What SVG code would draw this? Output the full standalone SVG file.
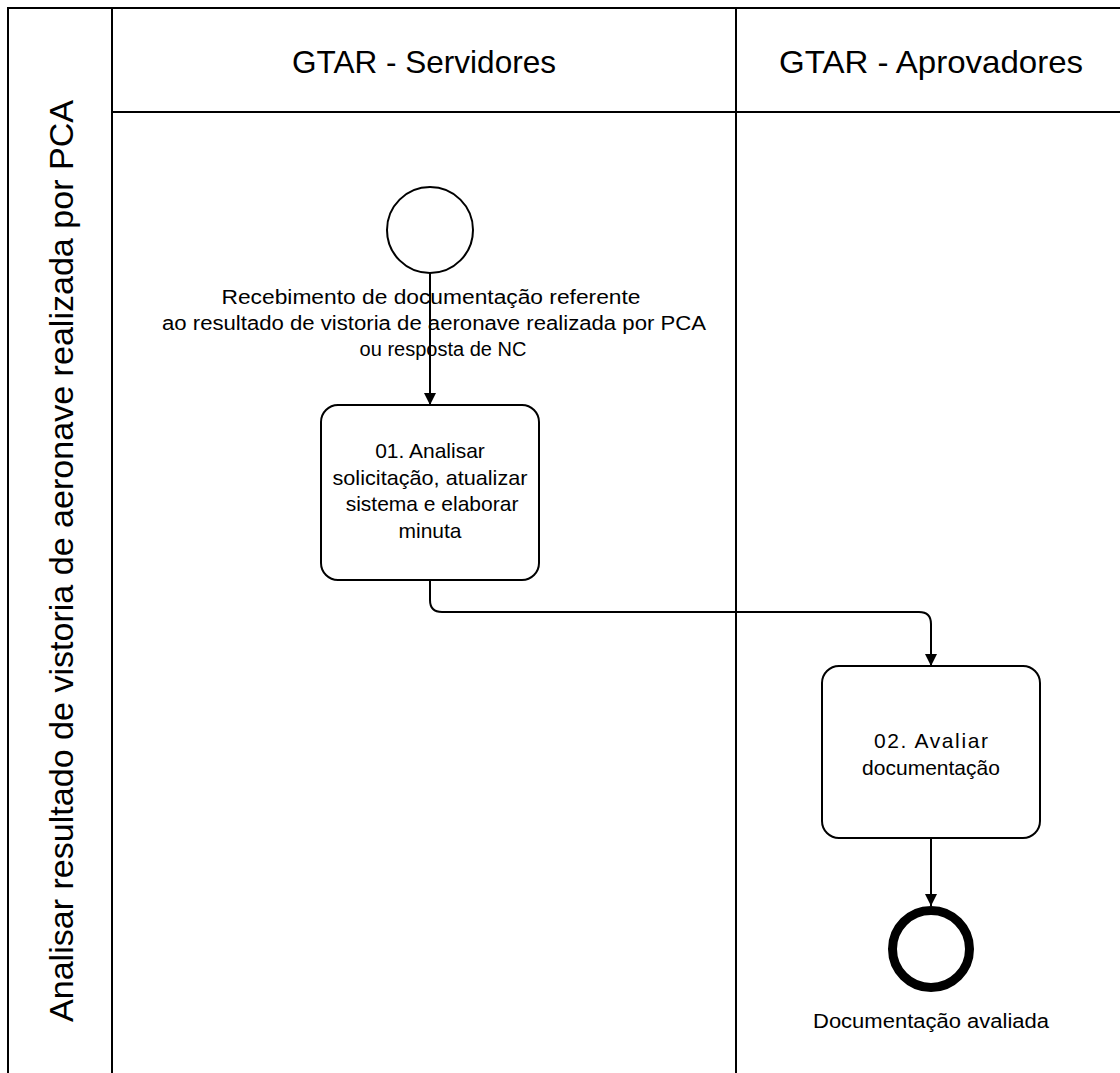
<svg xmlns="http://www.w3.org/2000/svg" width="1120" height="1073" viewBox="0 0 1120 1073">
<style>
.ln{stroke:#000;stroke-width:2;fill:none}
.box{stroke:#000;stroke-width:2;fill:#fff}
.t{font-family:"Liberation Sans",Arial,sans-serif;fill:#000;text-anchor:middle}
.hd{font-size:32px}
.pl{font-size:33px}
.lb{font-size:20px}
.tk{font-size:21px}
</style>
<defs>
<marker id="arr" viewBox="0 0 12 12" refX="12" refY="6" markerWidth="12" markerHeight="12" markerUnits="userSpaceOnUse" orient="auto">
<path d="M0,0 L12,6 L0,12 Z" fill="#000"/>
</marker>
</defs>
<rect width="1120" height="1073" fill="#fff"/>
<g id="pool">
<path class="ln" d="M8,1073 V8 H1120"/>
<line class="ln" x1="112" y1="8" x2="112" y2="1073"/>
<line class="ln" x1="112" y1="112" x2="1120" y2="112"/>
<line class="ln" x1="736" y1="8" x2="736" y2="1073"/>
<text class="t pl" transform="translate(73,561) rotate(-90)" textLength="922" lengthAdjust="spacingAndGlyphs">Analisar resultado de vistoria de aeronave realizada por PCA</text>
<text class="t hd" x="424" y="73" textLength="264" lengthAdjust="spacingAndGlyphs">GTAR - Servidores</text>
<text class="t hd" x="931" y="73" textLength="304" lengthAdjust="spacingAndGlyphs">GTAR - Aprovadores</text>
</g>
<g id="connectors">
<line class="ln" x1="430" y1="273" x2="430" y2="405" marker-end="url(#arr)"/>
<path class="ln" d="M430,580 V600 Q430,612 442,612 H919 Q931,612 931,624 V666" marker-end="url(#arr)"/>
<line class="ln" x1="931" y1="838" x2="931" y2="906" marker-end="url(#arr)"/>
</g>
<g id="start">
<circle class="box" cx="430" cy="230" r="43"/>
<text class="t lb" x="431" y="304" textLength="419" lengthAdjust="spacingAndGlyphs">Recebimento de documentação referente</text>
<text class="t lb" x="434" y="330" textLength="544" lengthAdjust="spacingAndGlyphs">ao resultado de vistoria de aeronave realizada por PCA</text>
<text class="t lb" x="443" y="356">ou resposta de NC</text>
</g>
<g id="task1">
<rect class="box" x="321" y="405" width="218" height="175" rx="17"/>
<text class="t tk" x="430" y="458">01. Analisar</text>
<text class="t tk" x="430" y="485" textLength="195" lengthAdjust="spacingAndGlyphs">solicitação, atualizar</text>
<text class="t tk" x="432" y="511">sistema e elaborar</text>
<text class="t tk" x="430" y="538">minuta</text>
</g>
<g id="task2">
<rect class="box" x="822" y="666" width="218" height="172" rx="17"/>
<text class="t tk" x="931" y="748" textLength="114" lengthAdjust="spacing">02. Avaliar</text>
<text class="t tk" x="931" y="775">documentação</text>
</g>
<g id="end">
<circle cx="931" cy="949" r="38.5" fill="#fff" stroke="#000" stroke-width="9"/>
<text class="t lb" x="931" y="1028" textLength="236" lengthAdjust="spacingAndGlyphs">Documentação avaliada</text>
</g>
</svg>
